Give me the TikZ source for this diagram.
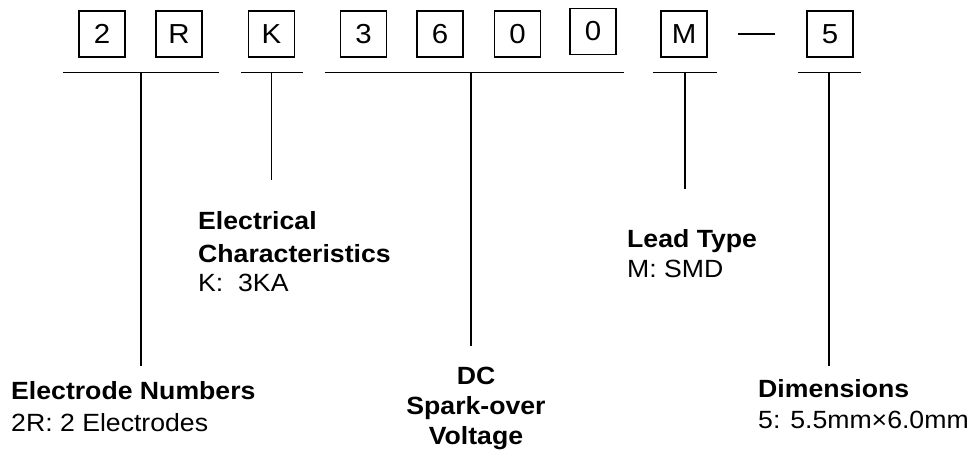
\documentclass[tikz,border=0pt]{standalone}
\usepackage{fontspec}
\setmainfont{Liberation Sans}[FakeStretch=1.07]
\begin{document}
\begin{tikzpicture}[x=1pt,y=-1pt,
  digit/.style={rectangle,draw,line width=1.5pt,minimum size=46pt,inner sep=0pt,
                font=\fontsize{27.5}{30}\selectfont},
  bar/.style={line width=1.5pt},
  hd/.style={anchor=base west,inner sep=0pt,font=\fontsize{24.9}{28}\selectfont\bfseries},
  txt/.style={anchor=base west,inner sep=0pt,font=\fontsize{24.9}{28}\selectfont},
  hdc/.style={hd,anchor=base}
]
\useasboundingbox (0,0) rectangle (973,450);

% ---- Part number boxes --------------------------------------
\node[digit] (d2)  at (102,34)   {2};
\node[digit] (dR)  at (179,34)   {R};
\node[digit] (dK)  at (271.5,34) {K};
\node[digit] (d3)  at (363.5,34) {3};
\node[digit] (d6)  at (440,34)   {6};
\node[digit] (d0a) at (517.5,34) {0};
\node[digit] (d0b) at (593,31.5) {0};
\node[digit] (dM)  at (684,34)   {M};
\node[digit] (d5)  at (830,34)   {5};
\draw[bar,shorten <=30pt,shorten >=31pt] (dM) -- (d5);

% ---- Brackets under the groups ------------------------------
\foreach \xa/\xb in {63/219,241/303,325/624,653/717,798/861}
  \draw[bar] (\xa,72.7) -- (\xb,72.7);

\coordinate (tA) at (141,72.7);   \coordinate (eA) at (141,365.7);
\coordinate (tB) at (271.7,72.7); \coordinate (eB) at (271.7,180);
\coordinate (tC) at (471,72.7);   \coordinate (eC) at (471,346);
\coordinate (tD) at (685,72.7);   \coordinate (eD) at (685,189);
\coordinate (tE) at (829,72.7);   \coordinate (eE) at (829,366);
\draw[bar] (tA) -- (eA);
\draw[bar] (tB) -- (eB);
\draw[bar] (tC) -- (eC);
\draw[bar] (tD) -- (eD);
\draw[bar] (tE) -- (eE);

% ---- Labels -------------------------------------------------
\node[hd]  (elA1) at (11,399)  {Electrode Numbers};
\node[txt] (elA2) at (11,431)  {2R: 2 Electrodes};

\node[hd]  (elB1) at (198,229) {Electrical};
\node[hd]  (elB2) at (198,262) {Characteristics};
\node[txt] (elB3) at (198,291) {K:~~3KA};

\node[hdc] (elC1) at (476,384) {DC};
\node[hdc] (elC2) at (476,414) {Spark-over};
\node[hdc] (elC3) at (476,444) {Voltage};

\node[hd]  (elD1) at (627,247) {Lead Type};
\node[txt] (elD2) at (627,277) {M: SMD};

\node[hd]  (elE1) at (758,397) {Dimensions};
\node[txt] (elE2) at (758,428) {5: 5.5mm×6.0mm};

\end{tikzpicture}
\end{document}
